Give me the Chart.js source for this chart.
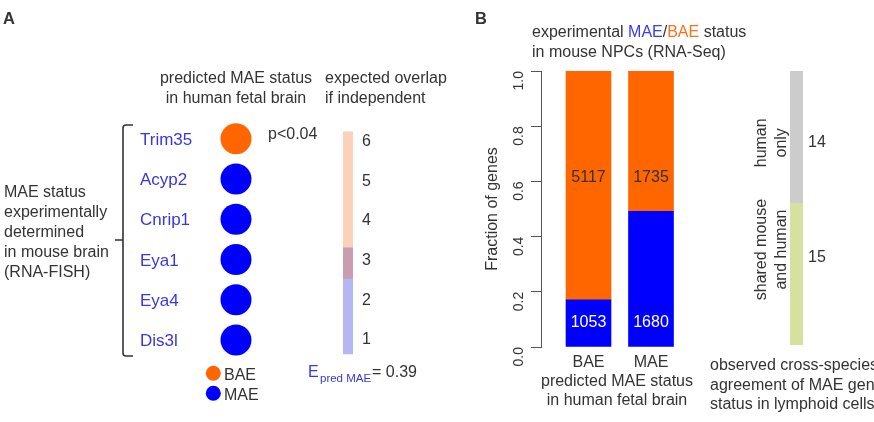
<!DOCTYPE html>
<html><head><meta charset="utf-8">
<script src="https://cdn.jsdelivr.net/npm/chart.js@4.4.1/dist/chart.umd.min.js"></script>
<style>
html,body{margin:0;padding:0;background:#fff;overflow:hidden}
#wrap{position:relative;width:874px;height:422px;overflow:hidden;font-family:'Liberation Sans',Arial,sans-serif;color:#333;background:#fff}
.c{position:absolute}
.c canvas{display:block}
.t{position:absolute;white-space:nowrap;line-height:1}
</style></head><body>
<div id="wrap">
  <div class="c" style="left:0;top:0;width:300px;height:422px"><canvas id="cA" width="300" height="422"></canvas></div>
  <div class="c" style="left:300px;top:100px;width:100px;height:280px"><canvas id="cO" width="100" height="280"></canvas></div>
  <div class="c" style="left:440px;top:0;width:253px;height:422px"><canvas id="cB" width="253" height="422"></canvas></div>
  <div class="c" style="left:700px;top:0;width:174px;height:422px"><canvas id="cC" width="174" height="422"></canvas></div>
</div>
<script>
// ---------------- data ----------------
const genes = ['Trim35', 'Acyp2', 'Cnrip1', 'Eya1', 'Eya4', 'Dis3l'];
const predictedStatus = ['BAE', 'MAE', 'MAE', 'MAE', 'MAE', 'MAE'];
const overlapTicks = [1, 2, 3, 4, 5, 6];
const overlapBands = [[0.64, 2.53], [2.53, 3.32], [3.32, 6.25]];
const npcCategories = ['BAE', 'MAE'];
const npcMAE = [1053, 1680];
const npcBAE = [5117, 1735];
const fractionTicks = [0, 0.2, 0.4, 0.6, 0.8, 1.0];
const crossLabels = [['shared mouse', 'and human'], ['human', 'only']];
const crossCounts = [15, 14];

// ---------------- styles ----------------
const FF = "'Liberation Sans', Arial, sans-serif";
const TXT = '#333333';
const BLUE = '#0000ff', ORANGE = '#ff6600';
const GENE_BLUE = '#3838de';
const statusColors = { BAE: ORANGE, MAE: BLUE };
const bandColors = ['#b6b6f5', '#c99cb0', '#fcd1ba'];
const crossColors = ['#d6e19f', '#cccccc'];
Chart.defaults.font.family = FF;
Chart.defaults.color = TXT;

const common = { responsive: false, animation: false, devicePixelRatio: 1, events: [],
  plugins: { legend: { display: false }, tooltip: { enabled: false } } };

const wrap = document.getElementById('wrap');
function addText(html, x, base, size, opts = {}) {
  const d = document.createElement('div');
  d.className = 't';
  d.style.left = x + 'px';
  d.style.top = (base - 0.8465 * size) + 'px';
  d.style.fontSize = size + 'px';
  if (opts.bold) d.style.fontWeight = 'bold';
  if (opts.color) d.style.color = opts.color;
  if (opts.center) d.style.transform = 'translateX(-50%)';
  d.innerHTML = html;
  wrap.appendChild(d);
}

// ---------------- Panel A: dots ----------------
new Chart(document.getElementById('cA'), {
  type: 'scatter',
  data: { datasets: [{
    data: genes.map((g, i) => ({ x: 0, y: i })),
    backgroundColor: predictedStatus.map(s => statusColors[s]),
    borderWidth: 0, pointRadius: 15.5, pointHoverRadius: 15.5
  }] },
  options: Object.assign({}, common, {
    layout: { padding: { left: 200, right: 28, top: 118.7, bottom: 61.9 } },
    scales: {
      x: { display: false, min: -1, max: 1 },
      y: { display: false, min: -0.5, max: 5.5, reverse: true }
    }
  }),
  plugins: [{
    id: 'annA',
    afterDraw(chart) {
      const ctx = chart.ctx, ys = chart.scales.y;
      ctx.save();
      ctx.font = '17px ' + FF;
      ctx.fillStyle = GENE_BLUE;
      ctx.textAlign = 'left';
      ctx.textBaseline = 'alphabetic';
      genes.forEach((g, i) => ctx.fillText(g, 140, ys.getPixelForValue(i) + 6));
      ctx.strokeStyle = '#333';
      ctx.lineWidth = 1.6;
      ctx.lineJoin = 'round';
      ctx.beginPath();
      ctx.moveTo(133, 125); ctx.lineTo(126, 125);
      ctx.quadraticCurveTo(123, 125, 123, 128);
      ctx.lineTo(123, 353);
      ctx.quadraticCurveTo(123, 356, 126, 356);
      ctx.lineTo(133, 356);
      ctx.moveTo(123, 240); ctx.lineTo(115, 240);
      ctx.stroke();
      Object.keys(statusColors).forEach((k, i) => {
        ctx.fillStyle = statusColors[k];
        ctx.beginPath();
        ctx.arc(213.3, 373.3 + 20 * i, 7.5, 0, Math.PI * 2);
        ctx.fill();
        ctx.fillStyle = TXT;
        ctx.font = '16px ' + FF;
        ctx.fillText(k, 224, 380 + 20 * i);
      });
      ctx.restore();
    }
  }]
});

// ---------------- Panel A: expected overlap colour bar ----------------
new Chart(document.getElementById('cO'), {
  type: 'bar',
  data: { labels: ['overlap'], datasets: overlapBands.map((b, i) => ({
    data: [b], backgroundColor: bandColors[i], grouped: false,
    barPercentage: 1, categoryPercentage: 1, borderWidth: 0
  })) },
  options: Object.assign({}, common, {
    layout: { padding: { left: 43, right: 17, top: 21.9, bottom: 20.5 } },
    scales: {
      x: { display: false },
      y: {
        position: 'right', min: 0.5, max: 6.5,
        afterBuildTicks(s) { s.ticks = overlapTicks.map(v => ({ value: v })); },
        afterFit(s) { s.width = 30; },
        grid: { display: false, drawTicks: false },
        border: { display: false },
        ticks: { padding: 9, color: TXT, font: { size: 16, family: FF } }
      }
    }
  })
});

// ---------------- Panel B: stacked fraction bars ----------------
const totals = npcMAE.map((v, i) => v + npcBAE[i]);
const fracMAE = npcMAE.map((v, i) => v / totals[i]);
const fracBAE = npcBAE.map((v, i) => v / totals[i]);
new Chart(document.getElementById('cB'), {
  type: 'bar',
  data: { datasets: [
    { label: 'MAE', data: npcCategories.map((c, i) => ({ x: i + 1, y: fracMAE[i] })), backgroundColor: BLUE, counts: npcMAE, labelColor: '#ffffff', labelAt: 0.095 },
    { label: 'BAE', data: npcCategories.map((c, i) => ({ x: i + 1, y: fracBAE[i] })), backgroundColor: ORANGE, counts: npcBAE, labelColor: TXT, labelAt: 0.62 }
  ] },
  options: Object.assign({}, common, {
    layout: { padding: { left: 0, right: 0, top: 71, bottom: 12 } },
    datasets: { bar: { barThickness: 45, grouped: false, borderWidth: 0 } },
    scales: {
      x: {
        type: 'linear', min: 0.24, max: 2.672, offset: false, grace: 0,
        afterBuildTicks(s) { s.ticks = npcCategories.map((c, i) => ({ value: i + 1 })); },
        afterFit(s) { s.height = 63; },
        ticks: { callback: v => npcCategories[v - 1], padding: 5.5, autoSkip: false, maxRotation: 0, color: TXT, font: { size: 16, family: FF } },
        grid: { display: false, drawTicks: false, offset: false },
        border: { display: false },
        title: { display: true, text: ['predicted MAE status', 'in human fetal brain'], color: TXT, padding: 0, font: { size: 16, family: FF, lineHeight: 1.2 } }
      },
      y: {
        stacked: true, min: 0, max: 1,
        afterBuildTicks(s) { s.ticks = fractionTicks.map(v => ({ value: v })); },
        afterFit(s) { s.width = 101; },
        ticks: { callback: v => Number(v).toFixed(1), minRotation: 90, maxRotation: 90, padding: 12, color: TXT, font: { size: 14, family: FF } },
        grid: { drawOnChartArea: false, drawTicks: true, tickLength: 10, color: '#555', lineWidth: 1 },
        border: { display: true, color: '#555', width: 1 },
        title: { display: true, text: 'Fraction of genes', color: TXT, padding: { top: 43, bottom: 0 }, font: { size: 16, family: FF, lineHeight: 1.25 } }
      }
    }
  }),
  plugins: [{
    id: 'countLabels',
    afterDatasetsDraw(chart) {
      const ctx = chart.ctx, ys = chart.scales.y;
      ctx.save();
      ctx.font = '16px ' + FF;
      ctx.textAlign = 'center';
      ctx.textBaseline = 'alphabetic';
      chart.data.datasets.forEach((ds, d) => {
        const meta = chart.getDatasetMeta(d);
        ctx.fillStyle = ds.labelColor;
        meta.data.forEach((el, i) => {
          ctx.fillText(String(ds.counts[i]), el.x, ys.getPixelForValue(ds.labelAt) + 5.8);
        });
      });
      ctx.restore();
    }
  }]
});

// ---------------- Panel B: cross-species agreement bar ----------------
const crossTotal = crossCounts.reduce((a, b) => a + b, 0);
const crossTextAt = [10.1, 21.4];
const crossCountAt = [9.4, 21.6];
new Chart(document.getElementById('cC'), {
  type: 'bar',
  data: { labels: ['lymphoid'], datasets: crossCounts.map((v, i) => ({
    label: crossLabels[i].join(' '), data: [v], backgroundColor: crossColors[i],
    barPercentage: 1, categoryPercentage: 1, borderWidth: 0
  })) },
  options: Object.assign({}, common, {
    layout: { padding: { left: 90, right: 71, top: 71, bottom: 77 } },
    scales: {
      x: { display: false, stacked: true },
      y: { display: false, stacked: true, min: 0, max: crossTotal }
    }
  }),
  plugins: [{
    id: 'crossText',
    afterDraw(chart) {
      const ctx = chart.ctx, ys = chart.scales.y;
      ctx.save();
      ctx.font = '16px ' + FF;
      ctx.fillStyle = TXT;
      crossLabels.forEach((lines, i) => {
        const yc = ys.getPixelForValue(crossTextAt[i]);
        lines.forEach((ln, j) => {
          ctx.save();
          ctx.translate(65.5 + 20 * j, yc);
          ctx.rotate(-Math.PI / 2);
          ctx.textAlign = 'center';
          ctx.textBaseline = 'alphabetic';
          ctx.fillText(ln, 0, 0);
          ctx.restore();
        });
        ctx.textAlign = 'left';
        ctx.textBaseline = 'alphabetic';
        ctx.fillText(String(crossCounts[i]), 108, ys.getPixelForValue(crossCountAt[i]) + 5.7);
      });
      ctx.restore();
    }
  }]
});

// ---------------- text annotations ----------------
addText('A', 3, 23.5, 16.5, { bold: true });
addText('B', 475, 23.5, 16.5, { bold: true });
addText('predicted MAE status', 236, 84, 16, { center: true });
addText('in human fetal brain', 236, 104, 16, { center: true });
addText('expected overlap', 325, 84, 16);
addText('if independent', 325, 104, 16);
addText('p&lt;0.04', 268, 140, 16);
['MAE status', 'experimentally', 'determined', 'in mouse brain', '(RNA-FISH)'].forEach((s, i) => addText(s, 4, 197.5 + 20 * i, 16));
addText('E', 308, 378, 16, { color: GENE_BLUE });
addText('pred MAE', 320, 383, 11.5, { color: GENE_BLUE });
addText('= 0.39', 372, 378, 16);
addText('experimental <span style="color:#3a3aee">MAE</span>/<span style="color:#ff7020">BAE</span> status', 532, 38, 16);
addText('in mouse NPCs (RNA-Seq)', 532, 58, 16);
['observed cross-species', 'agreement of MAE genes', 'status in lymphoid cells'].forEach((s, i) => addText(s, 710, 371 + 19.5 * i, 16));
</script>
</body></html>
